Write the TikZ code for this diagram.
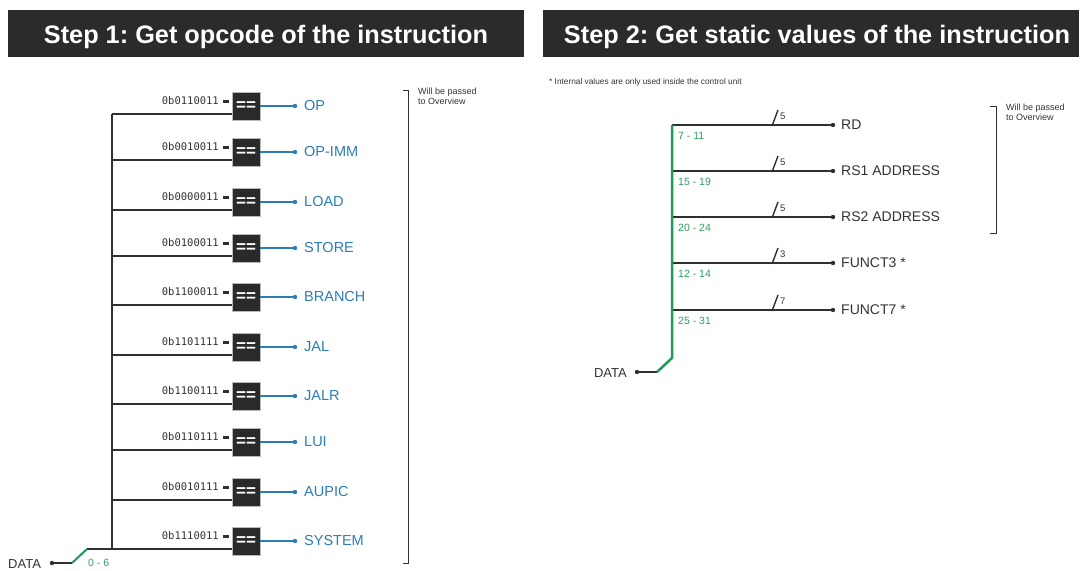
\documentclass[tikz,border=0pt]{standalone}
\usepackage{fontspec}
\setmainfont{Liberation Sans}
\newfontfamily\monof{DejaVu Sans Mono}
\frenchspacing
\definecolor{hdrgray}{HTML}{2B2B2B}
\definecolor{boxdark}{HTML}{2A2A2A}
\definecolor{wireblack}{HTML}{303030}
\definecolor{outblue}{HTML}{2A7DB5}
\definecolor{busgreen}{HTML}{1E9B55}
\definecolor{rangegreen}{HTML}{2F9E5C}
\definecolor{txtgray}{HTML}{333333}
\tikzset{
  hdr/.style={fill=hdrgray, draw=none},
  hdrtext/.style={text=white, font=\fontsize{25.3}{28}\selectfont\bfseries},
  cmp/.style={draw=gray!55, line width=0.8pt, fill=boxdark, minimum width=28pt, minimum height=28pt, inner sep=0pt, text=white, font=\fontsize{17}{17}\selectfont\bfseries},
  constlbl/.style={font=\monof\fontsize{10.5}{12}\selectfont, text=txtgray, inner sep=0pt},
  cdash/.style={draw=wireblack, line width=3pt},
  wire/.style={draw=wireblack, line width=2pt},
  bwire/.style={draw=outblue, line width=1.6pt},
  gwire/.style={draw=busgreen, line width=2.5pt},
  outlbl/.style={text=outblue, font=\fontsize{14.5}{16}\selectfont, inner sep=0pt},
  rlbl/.style={text=txtgray, font=\fontsize{14}{16}\selectfont, inner sep=0pt},
  datalbl/.style={text=txtgray, font=\fontsize{13}{15}\selectfont, inner sep=0pt},
  rangelbl/.style={text=rangegreen, font=\fontsize{10.5}{12}\selectfont, inner sep=0pt},
  widthlbl/.style={text=txtgray, font=\fontsize{9.5}{10}\selectfont, inner sep=0pt},
  notelbl/.style={text=txtgray, font=\fontsize{9}{10}\selectfont, inner sep=0pt, align=left},
  brk/.style={draw=wireblack, line width=0.9pt},
}
\begin{document}
\begin{tikzpicture}[x=1pt,y=-1pt]
\useasboundingbox (0,0) rectangle (1081,570);
% headers
\fill[hdr] (8,10) rectangle (524,57);
\node[hdrtext, anchor=base] (h1) at (266,43) {Step 1: Get opcode of the instruction};
\fill[hdr] (543,10) rectangle (1079,57);
\node[hdrtext, anchor=base] (h2) at (817,43) {Step 2: Get static values of the instruction};

% ---- Step 1 ----
\foreach \y/\k/\l [count=\i] in {106/0b0110011/OP, 152/0b0010011/OP-IMM, 202/0b0000011/LOAD, 248/0b0100011/STORE, 297/0b1100011/BRANCH, 347/0b1101111/JAL, 396/0b1100111/JALR, 442/0b0110111/LUI, 492/0b0010111/AUPIC, 541/0b1110011/SYSTEM}{
  \node[cmp] (c\i) at (246,\y) {==};
  \node[constlbl, anchor=east] (k\i) at (219,\y-5) {\k};
  \draw[cdash] ([xshift=4pt]k\i.east) -- ([xshift=-3pt]c\i.west |- k\i.east);
  \coordinate (o\i) at (295,\y);
  \draw[bwire] (c\i.east) -- (o\i);
  \fill[outblue] (o\i) circle (2.2pt);
  \node[outlbl, anchor=west] (l\i) at (304,\y) {\l};
  \coordinate (bus\i) at (112,\y+8);
  \draw[wire] (bus\i) -- (bus\i -| c\i.west);
}
\draw[wire] (bus1) -- (bus10);
\node[datalbl, anchor=west] (dataL) at (8,564) {DATA};
\coordinate (dL) at (52,563);
\coordinate (dLa) at (72,563);
\coordinate (dLb) at (87,549);
\fill[wireblack] (dL) circle (2.2pt);
\draw[wire] (dL) -- (dLa);
\draw[draw=busgreen, line width=2pt] (dLa) -- (dLb);
\draw[wire] (dLb) -- (bus10);
\node[rangelbl, anchor=west] (r06) at (88,563) {0 - 6};
% bracket
\draw[brk] (403,90) -- (408,90) -- (408,563) -- (403,563);
\node[notelbl, anchor=north west] (n1) at (418,88) {Will be passed\\to Overview};

% ---- Step 2 ----
\node[notelbl, anchor=west, font=\fontsize{8.3}{9}\selectfont] (note) at (549,82) {* Internal values are only used inside the control unit};
\foreach \y/\w/\r/\l [count=\i] in {125/5/7 - 11/RD, 171/5/15 - 19/RS1 ADDRESS, 217/5/20 - 24/RS2 ADDRESS, 263/3/12 - 14/FUNCT3 *, 310/7/25 - 31/FUNCT7 *}{
  \coordinate (g\i) at (672,\y);
  \coordinate (q\i) at (833,\y);
  \draw[wire] (g\i) -- (q\i);
  \fill[wireblack] (q\i) circle (2.2pt);
  \draw[draw=wireblack, line width=1.4pt] (772,\y+1) -- (778,\y-15);
  \node[widthlbl, anchor=west] (w\i) at (780,\y-9) {\w};
  \node[rlbl, anchor=west] (s\i) at (841,\y) {\l};
  \node[rangelbl, anchor=west] (rg\i) at (678,\y+11) {\r};
}
\coordinate (gb) at (672,358);
\coordinate (gd) at (657,372);
\coordinate (dR) at (637,372);
\draw[gwire, line join=round] (g1) -- (gb) -- (gd);
\draw[wire] (gd) -- (dR);
\fill[wireblack] (dR) circle (2.2pt);
\node[datalbl, anchor=east] (dataR) at (627,373) {DATA};
\draw[brk] (990,106) -- (996,106) -- (996,233) -- (990,233);
\node[notelbl, anchor=north west] (n2) at (1006,104) {Will be passed\\to Overview};
\end{tikzpicture}
\end{document}
